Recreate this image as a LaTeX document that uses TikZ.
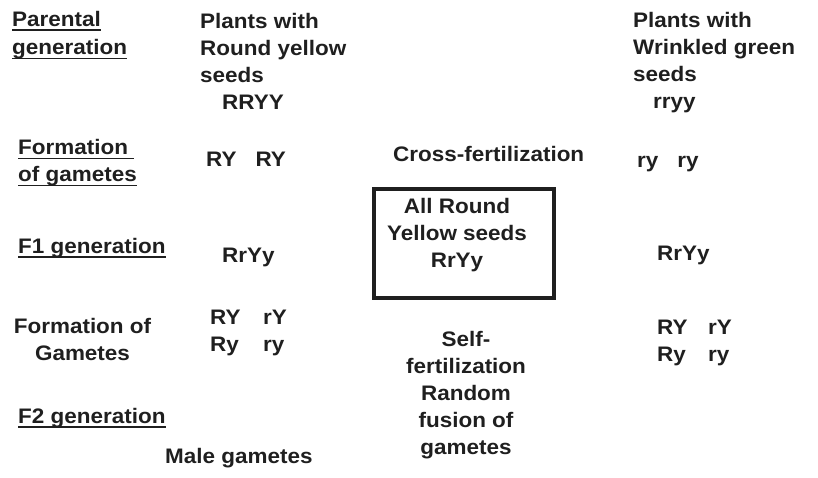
\documentclass[tikz,border=0pt]{standalone}
\usepackage{fontspec}
\setmainfont{Liberation Sans}[FakeStretch=1.07]
\usetikzlibrary{positioning}
\newsavebox{\ulinebox}
\newcommand{\ulbar}[1]{\sbox{\ulinebox}{#1}\rlap{\rule[-4.5pt]{\wd\ulinebox}{1.8pt}}\usebox{\ulinebox}}

\begin{document}
\begin{tikzpicture}[x=1pt, y=-1pt,
    every node/.style={font=\fontsize{21}{27}\selectfont\bfseries, inner sep=0pt, text=black!88},
    lbl/.style={anchor=base west, align=left},
    mid/.style={anchor=base, align=center},
    genbox/.style={draw=black!88, line width=4pt, minimum width=180pt, minimum height=109pt}
]
    \useasboundingbox (0,0) rectangle (818,478);

    % row labels (base = last line)
    \node [lbl, font=\fontsize{21}{28.5}\selectfont\bfseries] (parental) at (12,55) {\ulbar{Parental}\\\ulbar{generation}};
    \node [lbl] (formgamA) at (18,182) {\ulbar{Formation\ }\\\ulbar{of gametes}};
    \node [lbl] (fonelbl) at (18,253) {\ulbar{F1 generation}};
    \node [mid] (formgamB) at (82.5,360) {Formation of\\Gametes};
    \node [lbl] (ftwolbl) at (18,423) {\ulbar{F2 generation}};

    % parents
    \node [lbl] (roundpar) at (200,110) {Plants with\\Round yellow\\seeds\\\hspace*{22pt}RRYY};
    \node [lbl] (wrinkpar) at (633,109) {Plants with\\Wrinkled green\\seeds\\\hspace*{20pt}rryy};

    % gametes
    \node [lbl] (roundgam) at (206,167) {RY\hspace{19pt}RY};
    \node [lbl] (cross) at (393,162) {Cross-fertilization};
    \node [lbl] (wrinkgam) at (637,168) {ry\hspace{19pt}ry};

    % F1
    \node [genbox] (fonebox) at (464,243.5) {};
    \node [mid] (fonetext) at (457,267) {All Round\\Yellow seeds\\RrYy};
    \node [lbl] (fonegenL) at (222,262) {RrYy};
    \node [lbl] (fonegenR) at (657,260) {RrYy};

    % F1 gametes
    \node [lbl] (fgamL) at (210,351) {\makebox[53pt][l]{RY}rY\\\makebox[53pt][l]{Ry}ry};
    \node [lbl] (fgamR) at (657,361) {\makebox[51pt][l]{RY}rY\\\makebox[51pt][l]{Ry}ry};
    \node [mid] (selffert) at (466,454) {Self-\\fertilization\\Random\\fusion of\\gametes};

    % F2
    \node [lbl] (malegam) at (165,463) {Male gametes};
\end{tikzpicture}
\end{document}
